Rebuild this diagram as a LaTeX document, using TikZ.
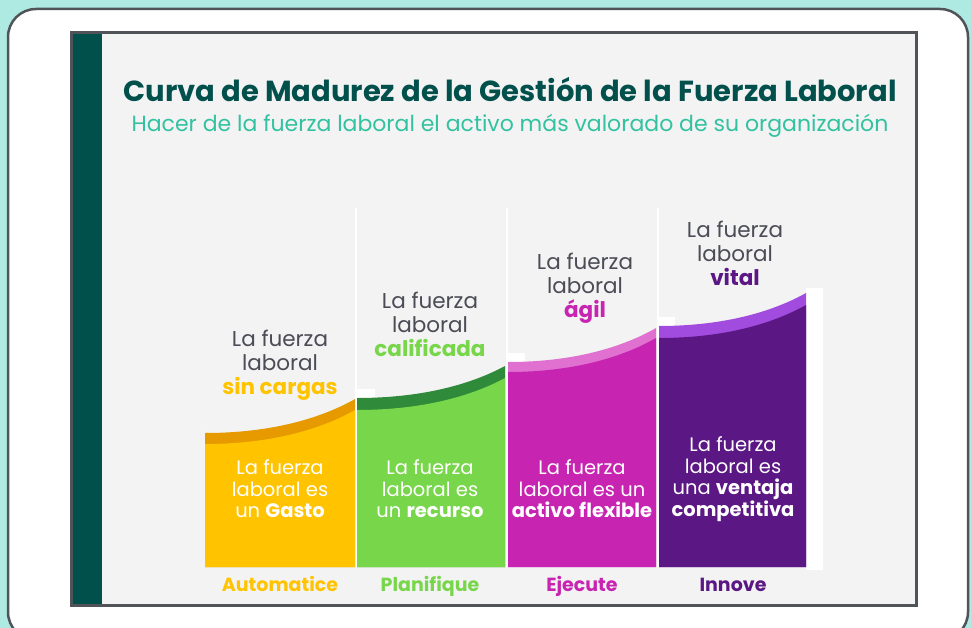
\documentclass[tikz,border=0pt]{standalone}
\usepackage{fontspec}
\setmainfont{Poppins}
\usepackage{tikz}
\usetikzlibrary{positioning}

\definecolor{skyteal}{HTML}{AEEAE2}
\definecolor{framegray}{HTML}{505458}
\definecolor{panelgray}{HTML}{F3F3F3}
\definecolor{deepteal}{HTML}{01504C}
\definecolor{subteal}{HTML}{33C2A1}
\definecolor{textgray}{HTML}{4B4C55}
\definecolor{yellow1}{HTML}{FFC300}
\definecolor{yellowband}{HTML}{E69A00}
\definecolor{green1}{HTML}{78D64B}
\definecolor{greenband}{HTML}{2F8A3A}
\definecolor{magenta1}{HTML}{C724B1}
\definecolor{magentaband}{HTML}{E171D0}
\definecolor{violet1}{HTML}{5B1784}
\definecolor{violetband}{HTML}{A24BDF}

\tikzset{
  headtext/.style={font=\fontsize{21.5}{24}\selectfont, text=textgray, align=center, inner sep=0pt},
  bartext/.style={font=\fontsize{19.5}{21.5}\selectfont, text=white, align=center, inner sep=0pt},
  stagetext/.style={font=\fontsize{19}{20}\selectfont\bfseries, inner sep=0pt, anchor=base}
}

\begin{document}
\begin{tikzpicture}[x=1pt, y=-1pt]
  \useasboundingbox (0,0) rectangle (971,628);
  \fill[skyteal] (0,0) rectangle (971,628);
  % outer card
  \draw[framegray, line width=2.5pt, fill=white, rounded corners=28pt] (8,9) rectangle (968,640);
  % inner panel
  \draw[framegray, line width=3pt, fill=panelgray] (71,33) rectangle (916,605);
  \fill[deepteal] (72.5,34.5) rectangle (102,603.5);

  \node[font=\fontsize{29}{32}\selectfont\bfseries, text=deepteal, inner sep=0pt] (title) at (510,90) {Curva de Madurez de la Gestión de la Fuerza Laboral};
  \node[font=\fontsize{22}{24}\selectfont, text=subteal, inner sep=0pt, below=12pt of title] (subtitle) {Hacer de la fuerza laboral el activo más valorado de su organización};

  % separators
  \foreach \sx in {356,506.5,657.5}
    \draw[white, line width=2pt] (\sx,208) -- (\sx,567);
  \fill[white] (806,288) rectangle (823,570);

  % curved bars
  \foreach \xa/\xb/\ya/\yb/\band/\main/\th/\notch in {205/355/433/399/yellowband/yellow1/11/0,
      357/505/398/366/greenband/green1/12/18,
      508/656/362/328/magentaband/magenta1/10/17,
      659/806/326/293/violetband/violet1/12/16}{
    \pgfmathsetmacro{\ca}{\xa+0.45*(\xb-\xa)}
    \pgfmathsetmacro{\cb}{\xa+0.78*(\xb-\xa)}
    \pgfmathsetmacro{\cc}{\yb+0.55*(\ya-\yb)}
    \fill[white] (\xa,\ya-9) rectangle (\xa+\notch,\ya);
    \fill[\band] (\xa,\ya) .. controls (\ca,\ya) and (\cb,\cc) .. (\xb,\yb) -- (\xb,567) -- (\xa,567) -- cycle;
    \fill[\main] (\xa,\ya+\th) .. controls (\ca,\ya+\th) and (\cb,\cc+\th) .. (\xb,\yb+\th) -- (\xb,567) -- (\xa,567) -- cycle;
  }

  % texts above bars
  \node[headtext] (head1) at (280,365) {La fuerza\\laboral\\\textbf{\textcolor{yellow1}{sin cargas}}};
  \node[headtext] (head2) at (430,324) {La fuerza\\laboral\\\textbf{\textcolor{green1}{calificada}}};
  \node[headtext] (head3) at (585,288) {La fuerza\\laboral\\\textbf{\textcolor{magenta1}{ágil}}};
  \node[headtext] (head4) at (735,253) {La fuerza\\laboral\\\textbf{\textcolor{violet1}{vital}}};

  % texts inside bars
  \node[bartext] (inner1) at (280,489) {La fuerza\\laboral es\\un \textbf{Gasto}};
  \node[bartext] (inner2) at (430,489) {La fuerza\\laboral es\\un \textbf{recurso}};
  \node[bartext] (inner3) at (582,489) {La fuerza\\laboral es un\\\textbf{activo flexible}};
  \node[bartext] (inner4) at (733,479) {La fuerza\\laboral es\\una \textbf{ventaja}\\\textbf{competitiva}};

  % stage names
  \node[stagetext, text=yellow1] (stage1) at (280,591) {Automatice};
  \node[stagetext, text=green1] (stage2) at (430,591) {Planifique};
  \node[stagetext, text=magenta1] (stage3) at (582,591) {Ejecute};
  \node[stagetext, text=violet1] (stage4) at (733,591) {Innove};
\end{tikzpicture}
\end{document}
